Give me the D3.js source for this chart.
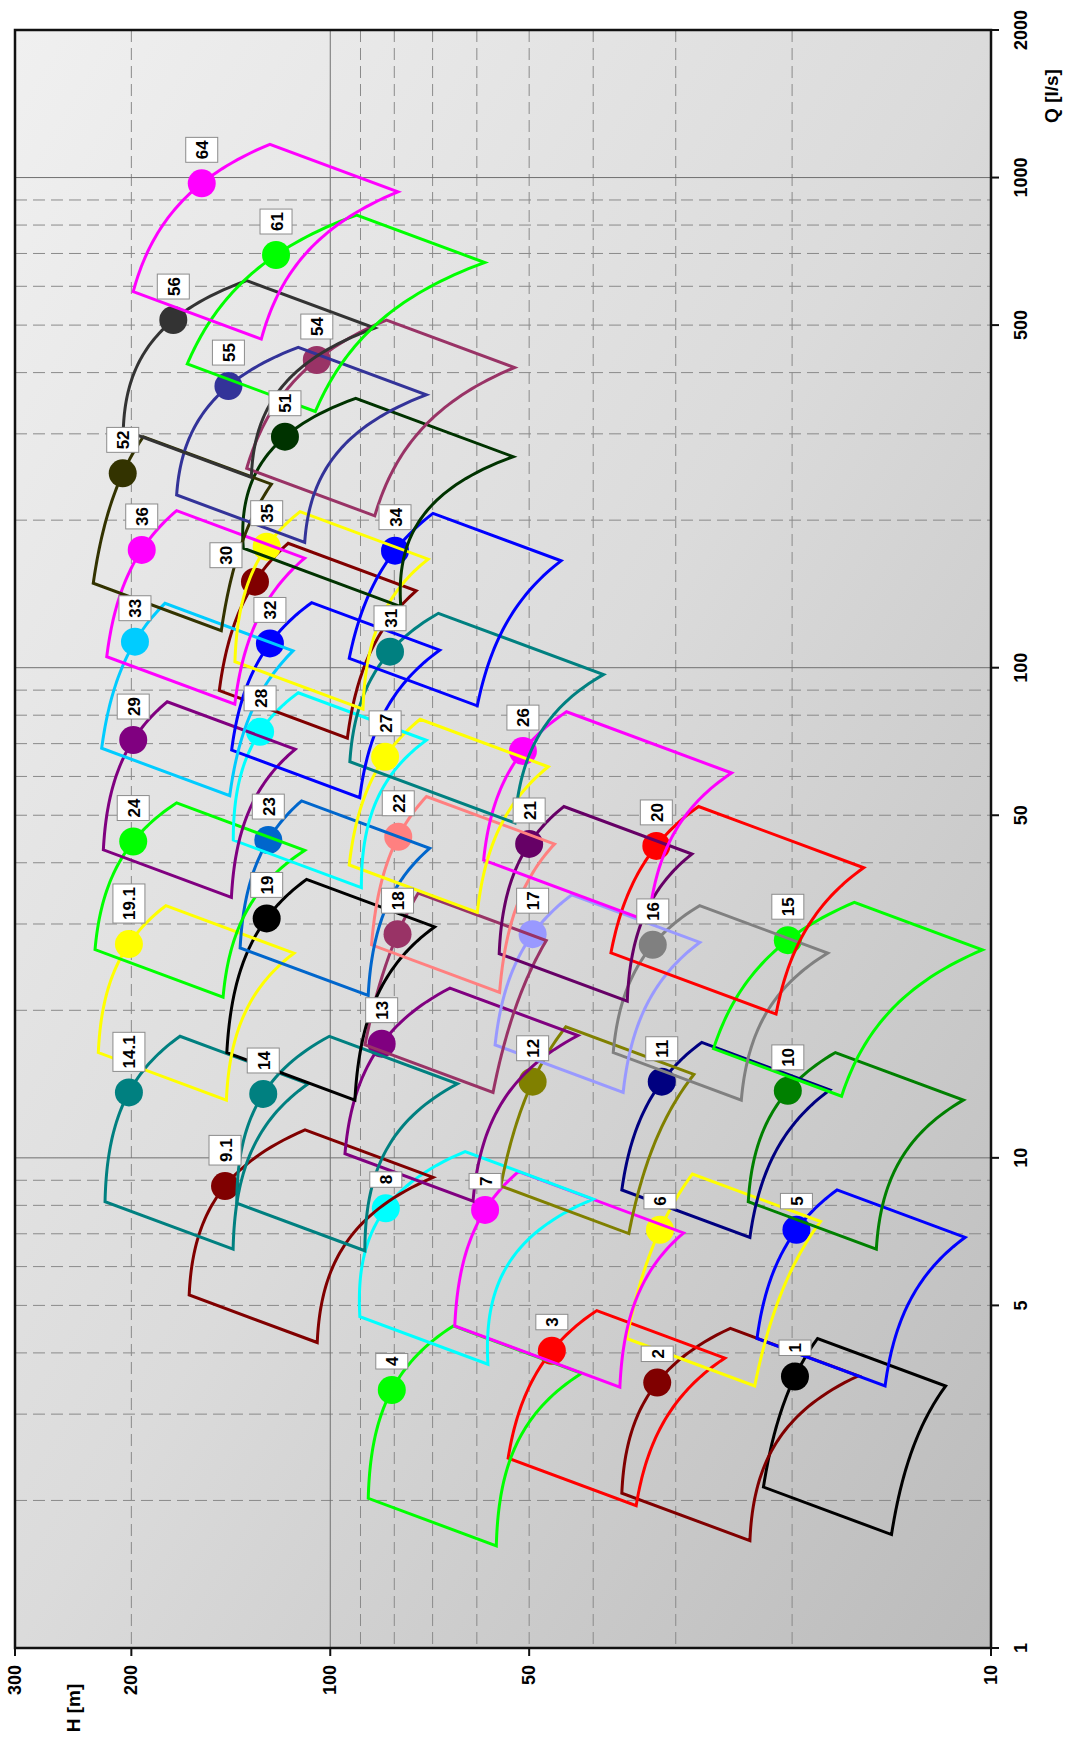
<!DOCTYPE html>
<html><head><meta charset="utf-8">
<script src="https://cdn.jsdelivr.net/npm/d3@7"></script>
<style>html,body{margin:0;padding:0;background:#fff}</style>
</head><body>
<svg id="chart" width="1066" height="1742"></svg>
<script>
// ---- axes / ticks ----
const hTicks = [300, 200, 100, 50, 10];
const qTicks = [1, 5, 10, 50, 100, 500, 1000, 2000];
const hGridDashed = [200, 90, 80, 70, 60, 50, 40, 30, 20];
const hGridSolid = [100];
const qGridDashed = [2,3,4,5,6,7,8,9,20,30,40,50,60,70,80,90,200,300,400,500,600,700,800,900];
const qGridSolid = [10, 100, 1000];

// ---- pump ranges ----
const labels = ["1","2","3","4","5","6","7","8","9.1","10","11","12","13","14","14.1","15","16","17","18","19","19.1","20","21","22","23","24","26","27","28","29","30","31","32","33","34","35","36","51","52","54","55","56","61","64"];
const colors = ["#000000","#800000","#FF0000","#00FF00","#0000FF","#FFFF00","#FF00FF","#00FFFF","#800000","#008000","#000080","#808000","#800080","#008080","#008080","#00FF00","#808080","#9999FF","#993366","#000000","#FFFF00","#FF0000","#660066","#FF8080","#0066CC","#00FF00","#FF00FF","#FFFF00","#00FFFF","#800080","#800000","#008080","#0000FF","#00CCFF","#0000FF","#FFFF00","#FF00FF","#003300","#333300","#993366","#333399","#333333","#00FF00","#FF00FF"];
// low-flow end of the full-diameter curve
const qLow  = [2.13,2.07,2.44,2.02,4.28,4.28,4.54,4.74,5.25,8.14,8.60,8.76,10.2,8.08,8.14,16.7,16.4,17.0,17.0,16.4,16.4,26.2,26.1,27.2,26.8,26.6,40.5,39.6,44.5,42.5,89.8,64.3,67.9,68.5,104.5,102.9,105.3,175.3,148.7,255.1,225.1,305.5,416.5,585.1];
const hLow  = [22.1,36.2,53.8,87.6,22.6,35.6,64.8,90.2,163.5,23.3,36.2,55.2,95.0,138.5,219.2,26.3,37.3,56.3,88.6,143.4,224.4,37.6,55.5,86.6,136.9,227.0,58.6,93.6,140.2,220.5,147.2,93.4,141.0,221.8,93.6,139.4,217.9,135.4,228.4,133.8,170.8,205.7,164.6,198.7];
// rated point (dot)
const qDot  = [3.58,3.48,4.04,3.36,7.13,7.13,7.83,7.89,8.76,13.7,14.3,14.3,17.1,13.5,13.6,27.8,27.2,28.6,28.6,30.8,27.3,43.3,43.7,45.2,44.5,44.2,67.6,65.8,74.0,71.2,149.8,107.8,112.1,113.0,173.3,176.6,173.9,296.0,249.2,424.4,375.5,512.1,695.0,973.4];
const hDot  = [19.8,32.0,46.2,80.7,19.7,31.7,58.3,82.4,144.3,20.3,31.5,49.4,83.6,126.3,201.7,20.3,32.5,49.4,79.1,124.8,201.7,32.1,50.0,78.9,124.1,198.7,51.1,82.6,127.7,198.7,130.0,81.2,123.4,197.5,79.8,124.8,192.9,117.1,206.1,104.8,142.6,172.8,120.8,156.5];
// high-flow end of the full-diameter curve
const qHigh = [4.28,4.49,4.88,4.54,8.60,9.27,9.37,10.3,11.4,16.4,17.2,18.5,22.2,17.7,17.7,33.2,32.7,34.4,34.7,37.0,32.7,52.1,52.1,54.6,53.5,53.0,81.3,78.5,88.9,85.2,179.4,129.1,135.7,135.3,206.5,208.1,209.1,354.5,296.0,512.1,450.5,616.2,838.6,1169];
const hHigh = [18.3,24.8,39.5,65.1,17.1,28.3,51.9,62.5,109.2,17.2,27.4,44.0,65.9,100.3,168.8,16.1,27.6,43.1,73.6,108.6,177.3,27.7,44.3,71.5,110.5,170.8,43.9,73.1,111.8,176.5,115.8,68.6,106.7,177.9,69.9,111.1,170.8,91.5,191.8,82.2,111.8,133.8,91.2,123.4];
// minimum / maximum impeller diameter ratio
const trim  = [0.8,0.8,0.8,0.8,0.8,0.8,0.75,0.8,0.8,0.8,0.8,0.8,0.8,0.8,0.8,0.8,0.8,0.8,0.8,0.8,0.8,0.75,0.8,0.8,0.8,0.8,0.75,0.8,0.8,0.8,0.8,0.75,0.8,0.8,0.8,0.8,0.8,0.76,0.8,0.8,0.8,0.8,0.8,0.8];

// ---- layout ----
const L = 15, R = 991, T = 30, B = 1648;
const svg = d3.select("#chart");
const x = d3.scaleLog().domain([300, 10]).range([L, R]);
const y = d3.scaleLog().domain([1, 2000]).range([B, T]);
const FONT = "'Liberation Sans', Arial, Helvetica, sans-serif";

const defs = svg.append("defs");
const grad = defs.append("linearGradient").attr("id", "bg")
  .attr("x1", 0).attr("y1", 0).attr("x2", 1).attr("y2", 1);
grad.append("stop").attr("offset", 0).attr("stop-color", "#f0f0f0");
grad.append("stop").attr("offset", 0.5).attr("stop-color", "#dbdbdb");
grad.append("stop").attr("offset", 1).attr("stop-color", "#bbbbbb");

svg.append("rect").attr("x", L).attr("y", T).attr("width", R - L).attr("height", B - T)
  .attr("fill", "url(#bg)");

// grid
const grid = svg.append("g");
grid.selectAll("line.hd").data(hGridDashed).join("line")
  .attr("x1", d => x(d)).attr("x2", d => x(d)).attr("y1", T).attr("y2", B)
  .attr("stroke", "#8a8a8a").attr("stroke-width", 1).attr("stroke-dasharray", "12,6");
grid.selectAll("line.qd").data(qGridDashed).join("line")
  .attr("y1", d => y(d)).attr("y2", d => y(d)).attr("x1", L).attr("x2", R)
  .attr("stroke", "#8a8a8a").attr("stroke-width", 1).attr("stroke-dasharray", "12,6");
grid.selectAll("line.hs").data(hGridSolid).join("line")
  .attr("x1", d => x(d)).attr("x2", d => x(d)).attr("y1", T).attr("y2", B)
  .attr("stroke", "#707070").attr("stroke-width", 1);
grid.selectAll("line.qs").data(qGridSolid).join("line")
  .attr("y1", d => y(d)).attr("y2", d => y(d)).attr("x1", L).attr("x2", R)
  .attr("stroke", "#707070").attr("stroke-width", 1);

// tiles
function quad(q0, h0, q1, h1, q2, h2) {
  return q => h0 * (q - q1) * (q - q2) / ((q0 - q1) * (q0 - q2))
            + h1 * (q - q0) * (q - q2) / ((q1 - q0) * (q1 - q2))
            + h2 * (q - q0) * (q - q1) / ((q2 - q0) * (q2 - q1));
}
const tiles = labels.map((lab, i) => ({
  lab, color: colors[i], qLow: qLow[i], hLow: hLow[i], qDot: qDot[i], hDot: hDot[i],
  qHigh: qHigh[i], hHigh: hHigh[i], r: trim[i]
}));
const N = 48;
const tileLayer = svg.append("g");
tiles.forEach(t => {
  const f = quad(t.qLow, t.hLow, t.qDot, t.hDot, t.qHigh, t.hHigh);
  const maxPts = d3.range(N + 1).map(k => {
    const q = t.qLow * Math.pow(t.qHigh / t.qLow, k / N);
    return [q, f(q)];
  });
  const minPts = maxPts.map(([q, h]) => [q * t.r, h * t.r * t.r]).reverse();
  const pts = maxPts.concat(minPts).map(([q, h]) => [x(h), y(q)]);
  const g = tileLayer.append("g");
  g.append("path").attr("d", d3.line()(pts) + "Z")
    .attr("fill", "none").attr("stroke", t.color).attr("stroke-width", 3)
    .attr("stroke-linejoin", "miter");
  g.append("circle").attr("cx", x(t.hDot)).attr("cy", y(t.qDot)).attr("r", 14)
    .attr("fill", t.color);
});

// labels
const labelShift = { "30": [-29, 7] };
const labLayer = svg.append("g");
tiles.forEach(t => {
  const sh = labelShift[t.lab] || [0, 0];
  const g = labLayer.append("g")
    .attr("transform", `translate(${x(t.hDot) + sh[0]},${y(t.qDot) - 21 + sh[1]}) rotate(-90)`);
  const rect = g.append("rect").attr("fill", "#fff").attr("stroke", "#8c8c8c").attr("stroke-width", 1);
  const txt = g.append("text").text(t.lab)
    .attr("font-family", FONT).attr("font-weight", "bold").attr("font-size", 17)
    .attr("text-anchor", "middle").attr("dominant-baseline", "central").attr("fill", "#000");
  const len = txt.node().getComputedTextLength();
  const w = len + 6;
  rect.attr("x", 0).attr("y", -16).attr("width", w).attr("height", 32);
  txt.attr("x", w / 2).attr("y", 1);
});

// frame
svg.append("rect").attr("x", L).attr("y", T).attr("width", R - L).attr("height", B - T)
  .attr("fill", "none").attr("stroke", "#111").attr("stroke-width", 2.5);

// bottom (H) axis
const bAx = svg.append("g");
bAx.selectAll("line").data(hTicks).join("line")
  .attr("x1", d => x(d)).attr("x2", d => x(d)).attr("y1", B).attr("y2", B + 8)
  .attr("stroke", "#111").attr("stroke-width", 2);
bAx.selectAll("text").data(hTicks).join("text")
  .attr("transform", d => `translate(${x(d)},${B + 17}) rotate(-90)`)
  .attr("text-anchor", "end").attr("dominant-baseline", "central")
  .attr("font-family", FONT).attr("font-weight", "bold").attr("font-size", 18)
  .text(d => d);

// right (Q) axis
const rAx = svg.append("g");
rAx.selectAll("line").data(qTicks).join("line")
  .attr("y1", d => y(d)).attr("y2", d => y(d)).attr("x1", R).attr("x2", R + 8)
  .attr("stroke", "#111").attr("stroke-width", 2);
rAx.selectAll("text").data(qTicks).join("text")
  .attr("transform", d => `translate(${R + 30},${y(d)}) rotate(-90)`)
  .attr("text-anchor", "middle").attr("dominant-baseline", "central")
  .attr("font-family", FONT).attr("font-weight", "bold").attr("font-size", 18)
  .text(d => d);

// axis titles
svg.append("text").attr("transform", `translate(1051,96) rotate(-90)`)
  .attr("text-anchor", "middle").attr("dominant-baseline", "central")
  .attr("font-family", FONT).attr("font-weight", "bold").attr("font-size", 19)
  .text("Q [l/s]");
svg.append("text").attr("transform", `translate(73,1708) rotate(-90)`)
  .attr("text-anchor", "middle").attr("dominant-baseline", "central")
  .attr("font-family", FONT).attr("font-weight", "bold").attr("font-size", 19)
  .text("H [m]");
</script>
</body></html>
